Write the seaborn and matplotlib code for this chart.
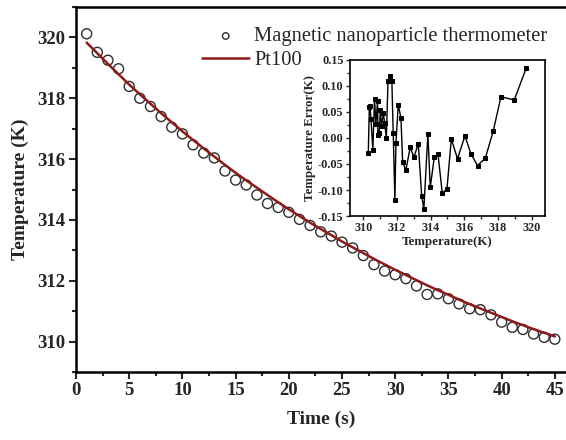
import numpy as np
import pandas as pd
import matplotlib
matplotlib.use("Agg")
import matplotlib.pyplot as plt
import seaborn as sns
from matplotlib.ticker import MultipleLocator, FormatStrFormatter

sns.set_style("ticks")
plt.rcParams['font.family'] = ['Liberation Serif', 'DejaVu Serif']

# ---- main data ----
time_s = list(range(1, 46))
magnetic_T = [320.12, 319.51, 319.25, 318.97, 318.39, 318.00, 317.73, 317.40, 317.05, 316.83,
              316.47, 316.20, 316.04, 315.61, 315.31, 315.15, 314.82, 314.54, 314.41, 314.25,
              314.02, 313.82, 313.61, 313.47, 313.27, 313.08, 312.83, 312.53, 312.32, 312.20,
              312.07, 311.83, 311.55, 311.57, 311.41, 311.24, 311.08, 311.05, 310.88, 310.64,
              310.47, 310.40, 310.25, 310.14, 310.08]
pt100_T = [319.83, 319.48, 319.13, 318.79, 318.45, 318.13, 317.82, 317.51, 317.21, 316.91,
           316.63, 316.35, 316.08, 315.81, 315.55, 315.30, 315.06, 314.82, 314.58, 314.35,
           314.13, 313.91, 313.70, 313.50, 313.29, 313.10, 312.91, 312.72, 312.54, 312.36,
           312.19, 312.02, 311.85, 311.69, 311.54, 311.38, 311.23, 311.09, 310.95, 310.81,
           310.67, 310.54, 310.41, 310.29, 310.17]

# ---- inset data ----
inset_T = [310.30, 310.36, 310.40, 310.46, 310.57, 310.67, 310.75, 310.85, 310.87, 310.95,
           311.01, 311.09, 311.19, 311.27, 311.37, 311.47, 311.58, 311.70, 311.78, 311.88,
           311.94, 312.08, 312.24, 312.34, 312.53, 312.79, 313.01, 313.27, 313.47, 313.60,
           313.84, 313.98, 314.22, 314.44, 314.69, 314.97, 315.23, 315.60, 316.04, 316.40,
           316.79, 317.25, 317.72, 318.18, 318.97, 319.68]
inset_err = [-0.028, 0.060, 0.062, 0.036, -0.023, 0.075, 0.027, 0.071, 0.006, 0.009,
             0.053, 0.022, 0.048, 0.029, 0.000, 0.109, 0.119, 0.109, 0.009, -0.120,
             -0.010, 0.064, 0.038, -0.046, -0.062, -0.018, -0.037, -0.011, -0.111, -0.136,
             0.008, -0.095, -0.037, -0.031, -0.105, -0.099, -0.002, -0.040, 0.004, -0.031,
             -0.053, -0.039, 0.013, 0.079, 0.073, 0.134]

main_df = pd.DataFrame({"t": time_s, "mag": magnetic_T, "pt": pt100_T})
inset_df = pd.DataFrame({"T": inset_T, "err": inset_err})

fig = plt.figure(figsize=(5.66, 4.40), dpi=100)
ax = fig.add_axes([0.1343, 0.1545, 1.0 - 0.1343, 0.984 - 0.1545])

sns.scatterplot(data=main_df, x="t", y="mag", ax=ax, marker="o", s=52,
                facecolor="none", edgecolor="#2e2e2e", linewidth=1.0,
                label="Magnetic nanoparticle thermometer", zorder=3)
sns.lineplot(data=main_df, x="t", y="pt", ax=ax, color="#8b1a1a", linewidth=1.8,
             label="Pt100", zorder=4)

ax.set_xlim(0, 46.05)
ax.set_ylim(309, 321)
ax.xaxis.set_major_locator(MultipleLocator(5))
ax.xaxis.set_minor_locator(MultipleLocator(2.5))
ax.yaxis.set_major_locator(MultipleLocator(2))
ax.yaxis.set_minor_locator(MultipleLocator(1))
ax.tick_params(axis="both", which="major", direction="out", length=5, width=1.5,
               labelsize=13.5, pad=2.5)
ax.tick_params(axis="both", which="minor", direction="out", length=3, width=1.5)
for lab in ax.get_xticklabels() + ax.get_yticklabels():
    lab.set_fontweight("bold")
for side in ["left", "bottom", "top"]:
    ax.spines[side].set_linewidth(1.8)
    ax.spines[side].set_color("black")
ax.spines["right"].set_visible(False)
ax.set_xlabel("Time (s)", fontsize=14, fontweight="bold", labelpad=8)
ax.set_ylabel("Temperature (K)", fontsize=14, fontweight="bold", labelpad=6)

leg = ax.legend(loc="upper right", bbox_to_anchor=(0.99, 0.982), frameon=False,
                fontsize=14.8, handlelength=2.3, handletextpad=0.25,
                labelspacing=0.2, borderaxespad=0.25, markerscale=0.65)

# ---- inset ----
ins = fig.add_axes([0.618, 0.509, 0.963 - 0.618, 0.864 - 0.509])
sns.lineplot(data=inset_df, x="T", y="err", ax=ins, color="black", linewidth=1.0,
             marker="s", markersize=3, markeredgecolor="black", sort=False)
ins.set_xlim(309.2, 320.8)
ins.set_ylim(-0.15, 0.15)
ins.xaxis.set_major_locator(MultipleLocator(2))
ins.xaxis.set_minor_locator(MultipleLocator(1))
ins.yaxis.set_major_locator(MultipleLocator(0.05))
ins.yaxis.set_minor_locator(MultipleLocator(0.025))
ins.yaxis.set_major_formatter(FormatStrFormatter("%.2f"))
ins.tick_params(axis="both", which="major", direction="out", length=3, width=1.0,
                labelsize=8.8, pad=1.5)
ins.tick_params(axis="both", which="minor", direction="out", length=2, width=1.0)
for lab in ins.get_xticklabels() + ins.get_yticklabels():
    lab.set_fontweight("bold")
for s in ins.spines.values():
    s.set_linewidth(1.2)
    s.set_color("black")
ins.set_xlabel("Temperature(K)", fontsize=9.3, fontweight="bold", labelpad=1)
ins.set_ylabel("Temperature Error(K)", fontsize=9.3, fontweight="bold", labelpad=1)

fig.savefig("out.png", dpi=100)
